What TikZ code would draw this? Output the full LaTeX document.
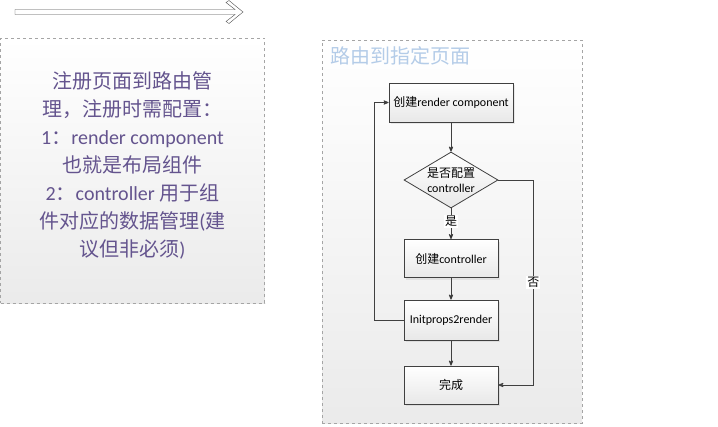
\documentclass[tikz,border=0pt]{standalone}
\usepackage{fontspec}
\setmainfont{Carlito}
\newfontfamily\cjk{Noto Sans CJK SC}
\usetikzlibrary{arrows, shadows, shapes.geometric}
\definecolor{notepurple}{RGB}{100,84,142}
\definecolor{titleblue}{RGB}{180,204,232}
\definecolor{linegray}{RGB}{64,64,64}
\definecolor{dashgray}{RGB}{165,165,165}
\newcommand{\zh}[1]{{\cjk #1}}

\begin{document}
\begin{tikzpicture}[x=1pt,y=-1pt,->,>=stealth',thick,
        panel/.style={draw=dashgray,dashed,thin,top color=white,bottom color=black!8},
        stepbox/.style={draw=linegray,thick,top color=white,bottom color=black!9,
          minimum width=94pt,minimum height=38pt,font=\fontsize{12}{14}\selectfont,
          drop shadow={opacity=0.15,shadow xshift=2pt,shadow yshift=-2pt}},
        decision/.style={diamond,draw=linegray,thick,top color=white,bottom color=black!9,
          inner sep=0pt,minimum width=94pt,minimum height=56pt}]

        \useasboundingbox (0,0) rectangle (718,426);

        % hollow arrow on top
        \draw[-,draw=black!70,fill=white,thin] (15,9.5) -- (235,9.5) -- (226,2.5) -- (229,0.5)
          -- (243,12) -- (229,23.5) -- (226,21.5) -- (235,14.5) -- (15,14.5) -- cycle;

        % left note
        \node at (132.5,170.5) [panel,minimum width=264pt,minimum height=265pt] (note) {};
        \node at (132.5,165) [align=center,text=notepurple,font=\fontsize{20}{28}\selectfont] (notetext)
          {\zh{注册页面到路由管}\\
           \zh{理，注册时需配置：}\\
           1\zh{：}render component\\
           \zh{也就是布局组件}\\
           2\zh{：}controller \zh{用于组}\\
           \zh{件对应的数据管理}(\zh{建}\\
           \zh{议但非必须})};

        % right panel
        \node at (452,231.5) [panel,minimum width=260pt,minimum height=383pt] (route) {};
        \node at (330,56) [anchor=west,inner sep=0pt,text=titleblue,font=\fontsize{20}{24}\selectfont] (title)
          {\zh{路由到指定页面}};

        \node at (451,102.5) [stepbox,minimum width=124pt,minimum height=39pt] (render) {\zh{创建}render component};
        \node at (451,180) [decision] (check) {};
        \node at (451,180) [align=center,font=\fontsize{12}{15}\selectfont] (checktext) {\zh{是否配置}\\controller};
        \node at (451,258.5) [stepbox] (ctrl) {\zh{创建}controller};
        \node at (451,320) [stepbox,minimum height=40pt] (init) {Initprops2render};
        \node at (451,385) [stepbox] (done) {\zh{完成}};

        \path[draw=linegray,every node/.style={fill=white,inner sep=1pt,font=\fontsize{12}{14}\selectfont}]
        (render) edge (check)
        (check) edge node[pos=0.42] {\zh{是}} (ctrl)
        (ctrl) edge (init)
        (init) edge (done);

        \draw[draw=linegray] (init.west) -- ++(-29,0) |- (render.west);
        \draw[draw=linegray] (check.east) -- ++(35,0) |- node[pos=0.25,fill=white,inner sep=1pt,
          font=\fontsize{12}{14}\selectfont] {\zh{否}} (done.east);

      \end{tikzpicture}
\end{document}
